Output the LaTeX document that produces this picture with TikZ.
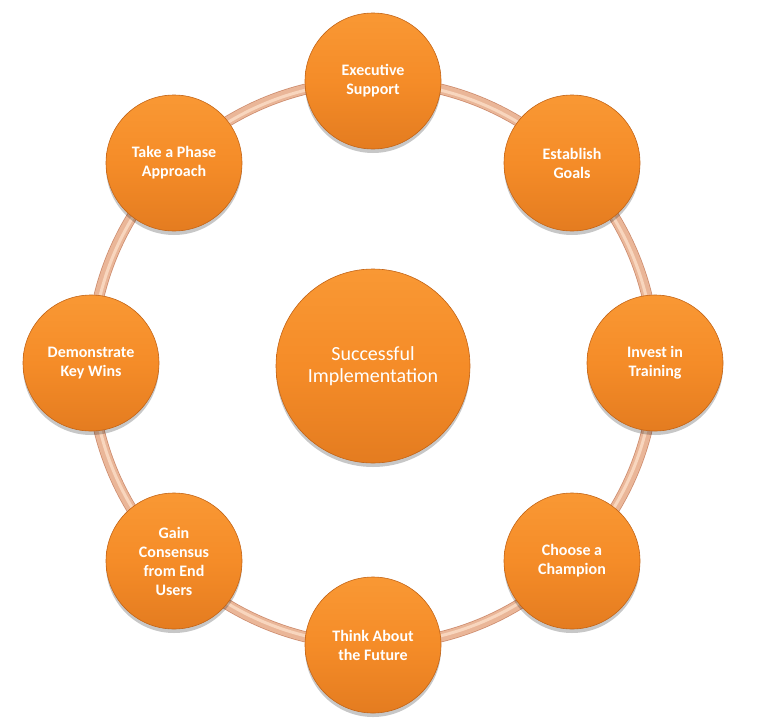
\documentclass[tikz,border=0pt]{standalone}
\usepackage{fontspec}
\setmainfont{Carlito}
\usetikzlibrary{shadows,calc}
\definecolor{ringc}{RGB}{234,182,152}
\definecolor{ringd}{RGB}{205,140,110}
\definecolor{ringl}{RGB}{248,214,190}
\definecolor{orgtop}{RGB}{249,152,52}
\definecolor{orgmid}{RGB}{245,140,40}
\definecolor{orgbot}{RGB}{228,124,32}
\definecolor{orgedge}{RGB}{195,100,22}
\begin{document}
\begin{tikzpicture}[x=1pt,y=-1pt,
  ball/.style={circle, inner sep=0pt, align=center, text=white,
    draw=orgedge, line width=0.6pt,
    top color=orgtop, bottom color=orgbot, middle color=orgmid,
    drop shadow={shadow xshift=0pt, shadow yshift=-4pt, opacity=0.22, fill=black}},
  small/.style={ball, minimum size=136pt, font=\fontsize{16}{19}\selectfont\bfseries},
  big/.style={ball, minimum size=194pt, font=\fontsize{20}{22}\selectfont}]
\useasboundingbox (0,0) rectangle (775,720);
\coordinate (c) at (373,363);
\draw[ringd, line width=11pt] (c) circle (282);
\draw[ringc, line width=9.5pt] (c) circle (282);
\draw[ringl, line width=3pt] (c) circle (281);
\node[small] (exec) at (373,81) {Executive\\Support};
\node[small] (goals) at (572,163) {Establish\\Goals};
\node[small] (train) at (655,363) {Invest in\\Training};
\node[small] (champ) at (572,561) {Choose a\\Champion};
\node[small] (future) at (373,645) {Think About\\the Future};
\node[small] (gain) at (174,561) {Gain\\Consensus\\from End\\Users};
\node[small] (wins) at (91,363) {Demonstrate\\Key Wins};
\node[small] (phase) at (174,163) {Take a Phase\\Approach};
\node[big] (center) at (373,366) {Successful\\Implementation};
\end{tikzpicture}
\end{document}
